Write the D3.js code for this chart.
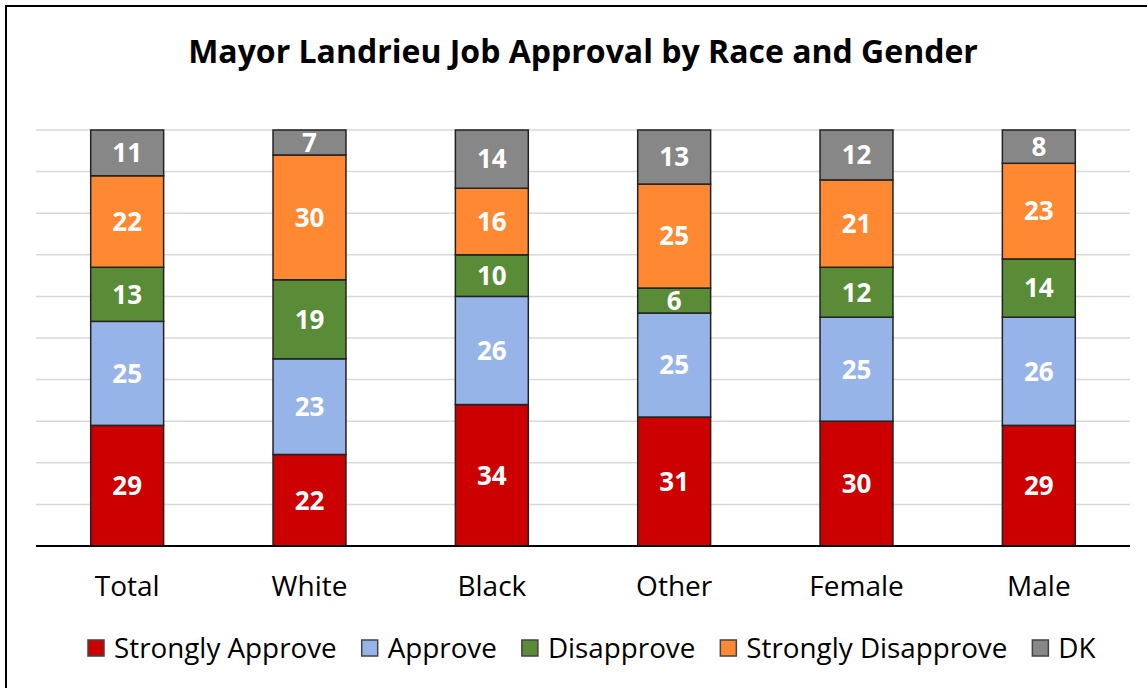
<!DOCTYPE html>
<html><head><meta charset="utf-8">
<script src="https://cdn.jsdelivr.net/npm/d3@7"></script>
<style>
html,body{margin:0;padding:0;background:#fff;}
svg{display:block;}
</style></head>
<body>
<svg id="chart" width="1147" height="688"></svg>
<script>
const categories = ["Total","White","Black","Other","Female","Male"];
const seriesNames = ["Strongly Approve","Approve","Disapprove","Strongly Disapprove","DK"];
const strongApprove = [29,22,34,31,30,29];
const approve = [25,23,26,25,25,26];
const disapprove = [13,19,10,6,12,14];
const strongDisapprove = [22,30,16,25,21,23];
const dk = [11,7,14,13,12,8];
const yTicks = [0,10,20,30,40,50,60,70,80,90,100];
const colors = ["#CC0000","#97B4E8","#5A8C38","#FF8833","#878787"];
const title = "Mayor Landrieu Job Approval by Race and Gender";

const seriesValues = [strongApprove, approve, disapprove, strongDisapprove, dk];
const FONT = "'Open Sans', 'Liberation Sans', sans-serif";

const svg = d3.select("#chart");
const W = 1147, H = 688;
svg.append("rect").attr("x",6).attr("y",6).attr("width",W).attr("height",H)
  .attr("fill","#fff").attr("stroke","#000").attr("stroke-width",2);

svg.append("text").attr("x",583).attr("y",63).attr("text-anchor","middle")
  .attr("font-family",FONT).attr("font-weight","bold").attr("font-size",32)
  .attr("fill","#000").text(title);

const plot = {left:36, right:1130, top:130, bottom:546};
const x = d3.scaleBand().domain(categories).range([plot.left, plot.right]).paddingInner(0.6).paddingOuter(0.3);
const y = d3.scaleLinear().domain([0,100]).range([plot.bottom, plot.top]);

svg.append("g").selectAll("line").data(yTicks.slice(1)).join("line")
  .attr("x1",plot.left).attr("x2",plot.right)
  .attr("y1",d=>y(d)).attr("y2",d=>y(d))
  .attr("stroke","#d9d9d9").attr("stroke-width",1.5);

const rows = categories.map((c,i)=>{const r={cat:c}; seriesNames.forEach((s,j)=>r[s]=seriesValues[j][i]); return r;});
const stack = d3.stack().keys(seriesNames)(rows);

const g = svg.append("g");
stack.forEach((layer,j)=>{
  layer.forEach((d,i)=>{
    const y0 = Math.min(d[0],100), y1 = Math.min(d[1],100);
    const cat = categories[i];
    g.append("rect").attr("x",x(cat)).attr("width",x.bandwidth())
      .attr("y",y(y1)).attr("height",y(y0)-y(y1))
      .attr("fill",colors[j]).attr("stroke","#222").attr("stroke-width",1.5);
    g.append("text").attr("x",x(cat)+x.bandwidth()/2).attr("y",(y(y0)+y(y1))/2)
      .attr("dy","0.36em").attr("text-anchor","middle")
      .attr("font-family",FONT).attr("font-weight","bold").attr("font-size",26)
      .attr("fill","#fff").text(seriesValues[j][i]);
  });
});

const xAxis = svg.append("g").attr("transform",`translate(0,${plot.bottom})`)
  .call(d3.axisBottom(x).tickSize(0).tickPadding(30));
xAxis.select(".domain").attr("stroke","#000").attr("stroke-width",2).attr("d",`M${plot.left},0H${plot.right}`);
xAxis.selectAll("text").attr("font-family",FONT).attr("font-size",28).attr("fill","#000");

const leg = svg.append("g").attr("transform","translate(0,648)");
let lx = 88;
seriesNames.forEach((s,j)=>{
  leg.append("rect").attr("x",lx).attr("y",-8).attr("width",16).attr("height",16)
    .attr("fill",colors[j]).attr("stroke","#444").attr("stroke-width",1.5);
  const t = leg.append("text").attr("x",lx+26).attr("y",0).attr("dy","0.36em")
    .attr("font-family",FONT).attr("font-size",27.8).attr("fill","#000").text(s);
  lx = lx + 26 + t.node().getComputedTextLength() + 25;
});
</script>
</body></html>
